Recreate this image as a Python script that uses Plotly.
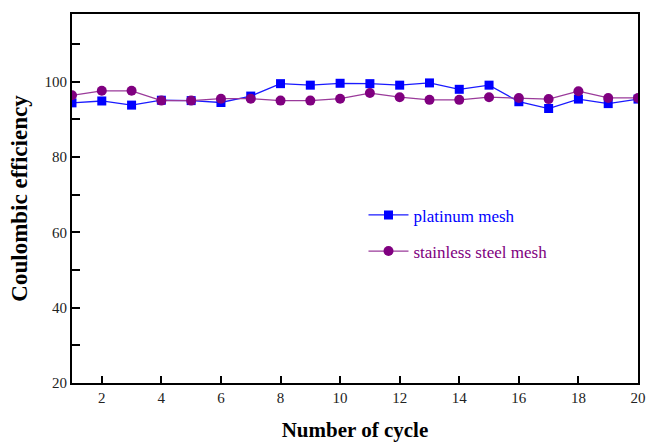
import plotly.graph_objects as go

cycles = list(range(1, 21))
platinum = [94.4, 94.9, 93.8, 95.1, 95.0, 94.5, 96.2, 99.5, 99.1, 99.6,
            99.5, 99.1, 99.7, 98.0, 99.1, 94.7, 92.9, 95.4, 94.2, 95.4]
stainless = [96.4, 97.6, 97.6, 95.0, 95.0, 95.5, 95.5, 95.0, 95.0, 95.5,
             97.0, 95.9, 95.2, 95.2, 95.9, 95.7, 95.4, 97.5, 95.7, 95.7]

serif = "Liberation Serif, Times New Roman, serif"

fig = go.Figure()
fig.add_trace(go.Scatter(
    x=cycles, y=platinum, mode="lines+markers",
    name="<span style='color:#0000FF'>platinum mesh</span>",
    legendgroup="a",
    line=dict(color="#1a1aff", width=1.3),
    marker=dict(symbol="square", size=9, color="#0000FF"),
))
fig.add_trace(go.Scatter(
    x=cycles, y=stainless, mode="lines+markers",
    name="<span style='color:#800080'>stainless steel mesh</span>",
    legendgroup="b",
    line=dict(color="#9a3a9a", width=1.3),
    marker=dict(symbol="circle", size=10, color="#800080"),
))

fig.update_layout(
    width=646, height=442,
    margin=dict(l=72, r=8, t=14, b=59, autoexpand=False),
    paper_bgcolor="white", plot_bgcolor="white",
    font=dict(family=serif, size=15, color="#222"),
    showlegend=True,
    legend=dict(x=0.515, y=0.503, xanchor="left", yanchor="top",
                bgcolor="rgba(0,0,0,0)", font=dict(family=serif, size=17),
                tracegroupgap=11, itemwidth=40),
)
fig.update_xaxes(
    range=[1, 20], tickmode="array", tickvals=list(range(2, 21, 2)),
    ticks="inside", ticklen=7, tickwidth=2, tickcolor="black",
    showline=True, linewidth=2, linecolor="black", mirror=True,
    showgrid=False, zeroline=False, automargin=False,
    tickfont=dict(family=serif, size=15, color="#222"),
    title=dict(text="<b>Number of cycle</b>", font=dict(family=serif, size=21, color="black"), standoff=18),
)
fig.update_yaxes(
    range=[20, 118], tickmode="array", tickvals=[20, 40, 60, 80, 100],
    ticks="inside", ticklen=8, tickwidth=2, tickcolor="black",
    minor=dict(tickvals=[30, 50, 70, 90, 110], ticks="inside", ticklen=8, tickwidth=2, tickcolor="black"),
    showline=True, linewidth=2, linecolor="black", mirror=True,
    showgrid=False, zeroline=False, automargin=False,
    tickfont=dict(family=serif, size=15, color="#222"),
    title=dict(text="<b>Coulombic efficiency</b>", font=dict(family=serif, size=23, color="black"), standoff=10),
)

fig.write_html("out.html", config={"displayModeBar": False},
               post_script="document.body.style.margin='0';document.body.style.overflow='hidden';")
